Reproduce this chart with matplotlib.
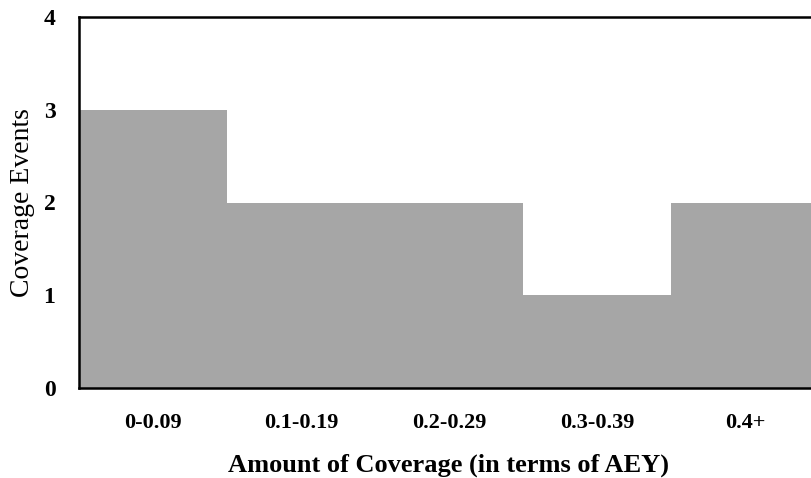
import numpy as np
import matplotlib.pyplot as plt

# datos del histograma
categories = ['0-0.09', '0.1-0.19', '0.2-0.29', '0.3-0.39', '0.4+']
events = [3, 2, 2, 1, 2]
y_ticks = [0, 1, 2, 3, 4]

plt.rcParams['font.family'] = ['Liberation Serif', 'DejaVu Serif']

fig = plt.figure(figsize=(8.11, 4.78), dpi=100)
ax = fig.add_axes([79 / 811, 1 - 388 / 478, 740 / 811, 371 / 478])

x = np.arange(len(categories))
ax.bar(x, events, width=1.0, color='#a6a6a6', edgecolor='none')

ax.set_xlim(-0.5, len(categories) - 0.5)
ax.set_ylim(0, 4)
ax.set_yticks(y_ticks)
ax.set_xticks(x)
ax.set_xticklabels(categories, fontsize=16, fontweight='bold')
ax.set_yticklabels([str(t) for t in y_ticks], fontsize=17, fontweight='bold')
ax.tick_params(axis='both', length=0)
ax.tick_params(axis='x', pad=18)
ax.tick_params(axis='y', pad=17)

ax.set_xlabel('Amount of Coverage (in terms of AEY)', fontsize=19,
              fontweight='bold', labelpad=15)
ax.set_ylabel('Coverage Events', fontsize=20, labelpad=6)

for side in ['left', 'top', 'bottom']:
    ax.spines[side].set_linewidth(1.8)
    ax.spines[side].set_color('black')
ax.spines['right'].set_visible(False)

fig.savefig('out.png', dpi=100)
